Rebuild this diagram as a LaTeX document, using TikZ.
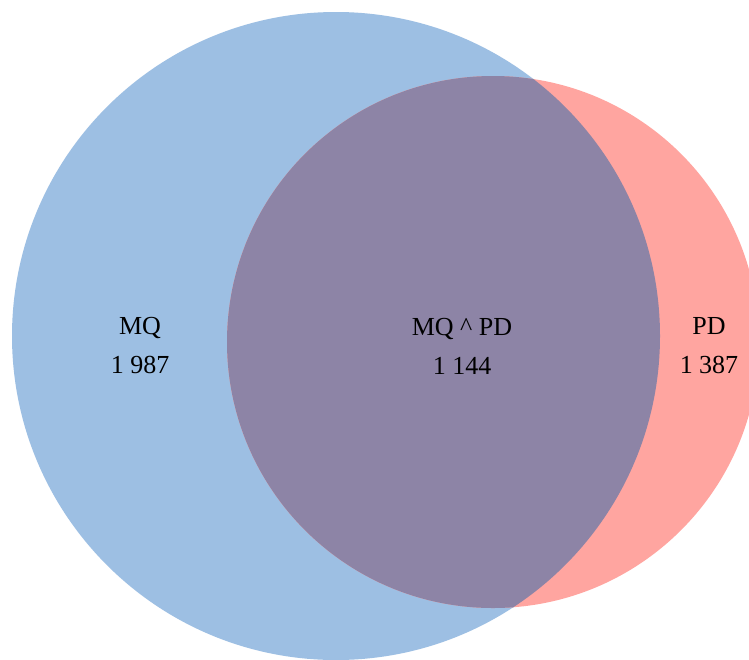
\documentclass[tikz,border=0pt]{standalone}
\usepackage{fontspec}
\setmainfont{Liberation Serif}
\definecolor{mqblue}{RGB}{157,191,227}
\definecolor{pdred}{RGB}{255,165,160}
\definecolor{bothpurple}{RGB}{141,132,166}
\tikzset{
  setlabel/.style={align=center, font=\fontsize{26}{39}\selectfont, inner sep=0pt},
}
\begin{document}
\begin{tikzpicture}[x=1pt,y=-1pt]
  \fill[white] (0,0) rectangle (749,659);
  \useasboundingbox (0,0) rectangle (749,659);
  \coordinate (mq) at (336,336);
  \coordinate (pd) at (493,342);
  % sets
  \fill[mqblue] (mq) circle (324pt);
  \fill[pdred] (pd) circle (266pt);
  \begin{scope}
    \clip (mq) circle (324pt);
    \fill[bothpurple] (pd) circle (266pt);
  \end{scope}
  % counts
  \node[setlabel] (MQ) at (140,346) {MQ\\1 987};
  \node[setlabel] (MQPD) at (462,346) {MQ \textasciicircum{} PD\\1 144};
  \node[setlabel] (PD) at (709,346) {PD\\1 387};
\end{tikzpicture}
\end{document}
